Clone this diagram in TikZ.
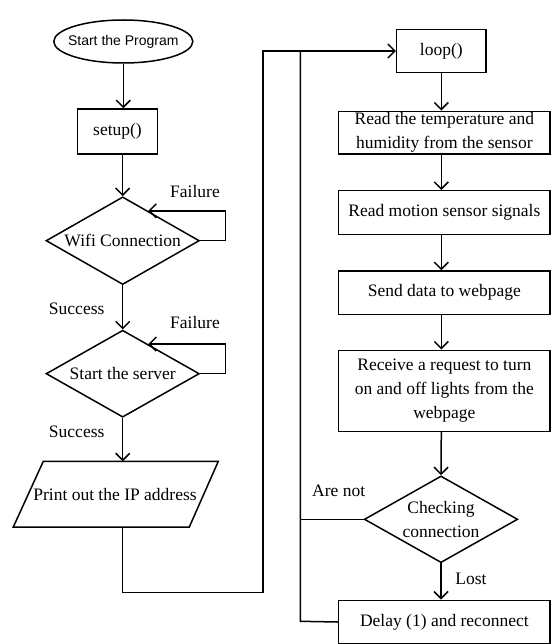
\documentclass[tikz,border=0pt]{standalone}
\usepackage{fontspec}
\setmainfont{Liberation Serif}
\newfontfamily\arialf{Liberation Sans}
\usetikzlibrary{shapes.geometric,arrows.meta,calc}
\begin{document}
\begin{tikzpicture}[x=1bp,y=-1bp,
  line width=1.5bp,
  every node/.style={font=\fontsize{17.5bp}{24bp}\selectfont},
  box/.style={draw, rectangle, inner sep=1bp, align=center},
  dia/.style={draw, diamond, aspect=1.77, inner sep=0pt, align=center},
  arr/.style={-{Straight Barb[length=7bp,width=14bp]}},
]
\useasboundingbox (0,0) rectangle (552,644);

% left column
\node[draw, ellipse, minimum width=139bp, minimum height=43bp, inner xsep=-10bp, inner ysep=0pt,
      font=\arialf\fontsize{14bp}{16bp}\selectfont] (start) at (123.3,41.5) {Start the Program};
\node[box, minimum width=79.6bp, minimum height=45bp] (setup) at (117.5,131.5) {setup()};
\node[dia, minimum width=153.3bp, minimum height=87.7bp] (wifi) at (122.7,240.7) {Wifi Connection};
\node[dia, minimum width=153.3bp, minimum height=87bp] (server) at (122.7,373.7) {Start the server};

\coordinate (pTL) at (43.3,461.3);
\coordinate (pTR) at (218.3,461.3);
\coordinate (pBR) at (189.3,527);
\coordinate (pBL) at (13.3,527);
\coordinate (pTop) at (122.7,461.3);
\coordinate (pBot) at (122.7,527);
\draw (pTL) -- (pTR) -- (pBR) -- (pBL) -- cycle;
\node (print) at (115,494.3) {Print out the IP address};

% right column
\node[box, minimum width=89.3bp, minimum height=43.4bp] (loop) at (441.3,51) {loop()};
\node[box, minimum width=211.3bp, minimum height=42.7bp] (temp) at (444.35,132.65) {Read the temperature and\\humidity from the sensor};
\node[box, minimum width=211.3bp, minimum height=43.6bp] (motion) at (444.35,212.5) {Read motion sensor signals};
\node[box, minimum width=211.3bp, minimum height=43.3bp] (send) at (444.35,292.65) {Send data to webpage};
\node[box, minimum width=211.3bp, minimum height=81bp] (recv) at (444.35,390.8) {Receive a request to turn\\on and off lights from the\\webpage};
\node[dia, minimum width=153.4bp, minimum height=86.7bp] (check) at (441,519.3) {Checking\\connection};
\node[box, minimum width=211.3bp, minimum height=43.4bp] (delay) at (444.35,622) {Delay (1) and reconnect};

% labels
\node (fail1) at (195,191.7) {Failure};
\node (fail2) at (195,323) {Failure};
\node (succ1) at (76.7,308.3) {Success};
\node (succ2) at (76.7,432) {Success};
\node (arenot) at (338.7,491.3) {Are not};
\node (lost) at (471,578.7) {Lost};

% connectors left
\draw[arr] (start.south) -- (start.south |- setup.north);
\draw[arr] (wifi.north |- setup.south) -- (wifi.north);
\draw[arr] (wifi.east) -- ++(25.3,0) |- ($(wifi.north)!0.33!(wifi.east)$);
\draw[arr] (wifi.south) -- (server.north);
\draw[arr] (server.east) -- ++(25.3,0) |- ($(server.north)!0.33!(server.east)$);
\draw[arr] (server.south) -- (pTop);
\coordinate (jL) at (263,592.7);
\coordinate (jTop) at (300.3,51.7);
\coordinate (jBot) at (300.3,621.3);
\draw[arr] (pBot) |- (jL) |- (loop.west);

% connectors right
\draw[arr] (loop.south) -- (loop.south |- temp.north);
\draw[arr] (loop.south |- temp.south) -- (loop.south |- motion.north);
\draw[arr] (loop.south |- motion.south) -- (loop.south |- send.north);
\draw[arr] (loop.south |- send.south) -- (loop.south |- recv.north);
\draw[arr] (loop.south |- recv.south) -- (check.north);
\draw[arr] (check.south) -- (check.south |- delay.north);
\draw (delay.west) -- (jBot) -- (jTop);
\draw (check.west) -- (check.west -| jTop);
\end{tikzpicture}
\end{document}
